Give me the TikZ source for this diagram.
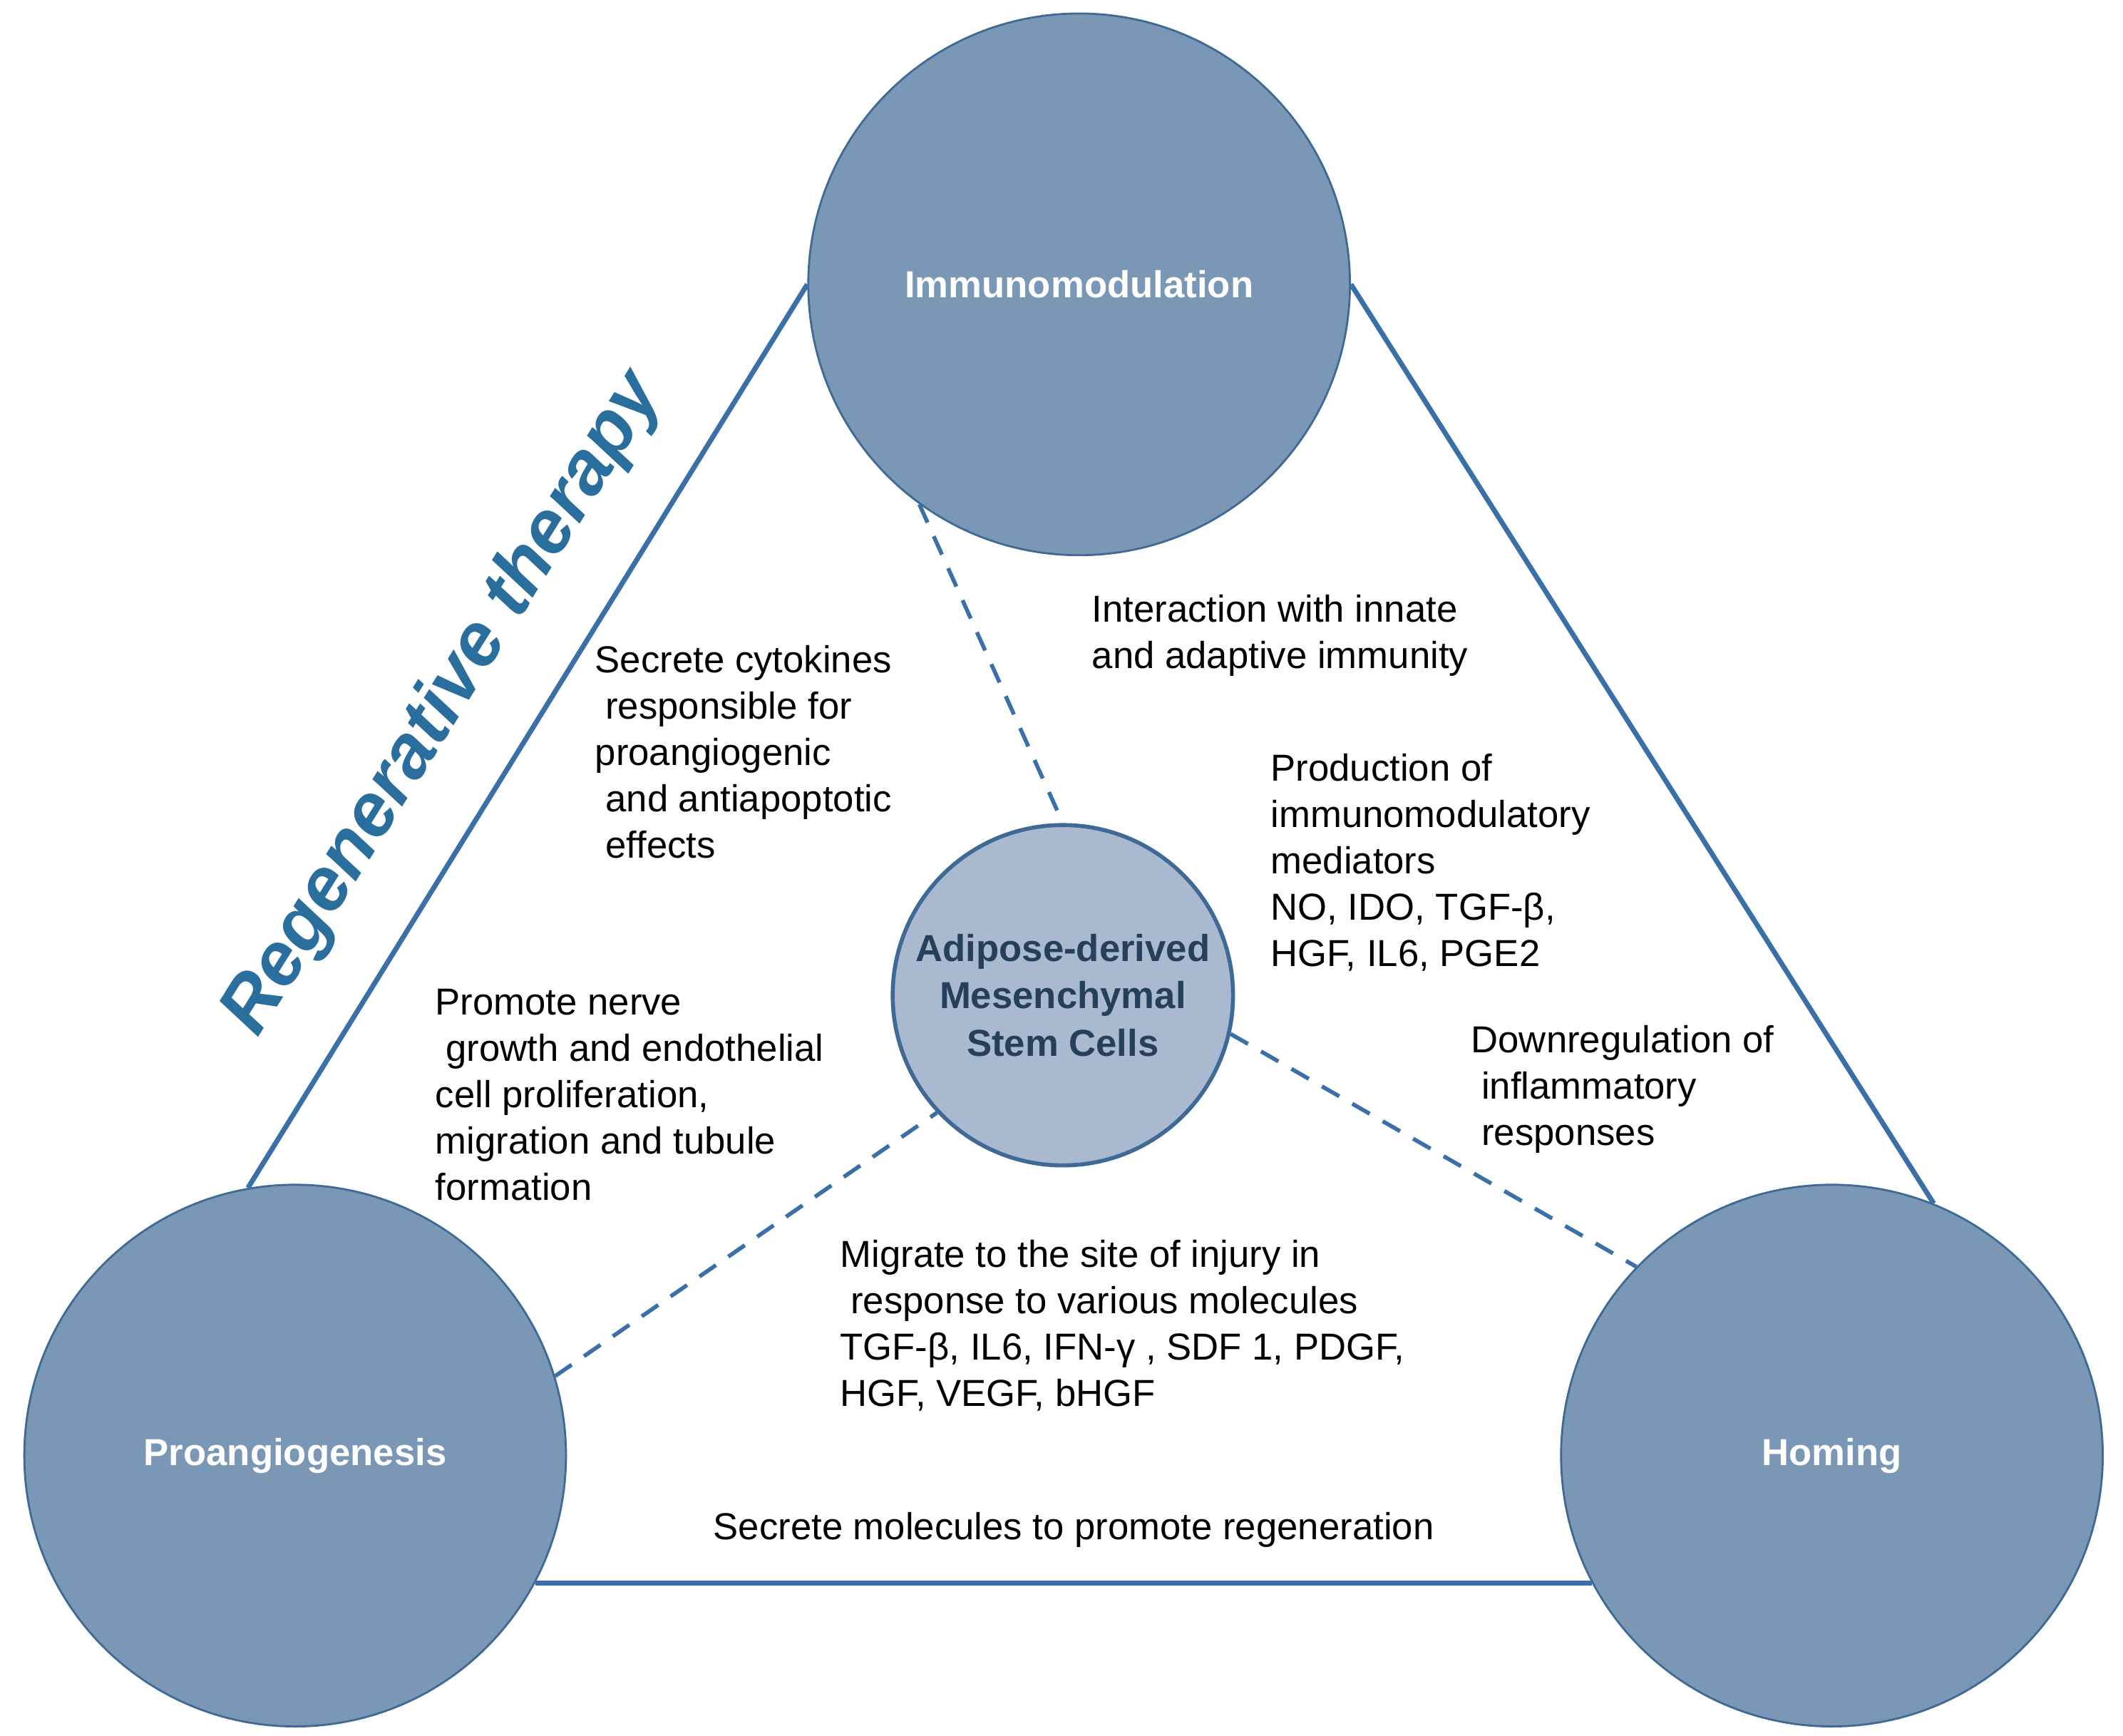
\documentclass[tikz,border=0pt]{standalone}
\usepackage{fontspec}
\setmainfont{Liberation Sans}
\definecolor{disc}{HTML}{7A97B5}
\definecolor{core}{HTML}{A9B9CF}
\definecolor{rim}{HTML}{3F6A96}
\definecolor{link}{HTML}{3A6FA8}
\definecolor{title}{HTML}{2A6E9E}
\tikzset{
  hub/.style={circle,fill=disc,draw=rim,thick,minimum size=7.6cm,text=white,font=\fontsize{15}{18}\selectfont\bfseries},
  note/.style={anchor=north west,align=left,font=\fontsize{15}{18.5}\selectfont},
  side/.style={link,line width=2pt},
  spoke/.style={link,line width=1.6pt,dashed,dash pattern=on 8pt off 6pt}
}
\begin{document}
\begin{tikzpicture}[x=0.019cm,y=-0.019cm]
\useasboundingbox (0,0) rectangle (1568,1282);

\node[hub](v1) at (797,210) {Immunomodulation};
\node[hub](v2) at (218,1075) {Proangiogenesis};
\node[hub](v3) at (1353,1075) {Homing};
\node[circle,fill=core,draw=rim,line width=1.6pt,minimum size=4.5cm,align=center,text=rim!60!black,
  font=\fontsize{15}{19}\selectfont\bfseries](v0) at (785,735) {Adipose-derived\\Mesenchymal\\Stem Cells};

\draw[side] (v1.180) -- (v2.100);
\draw[side] (v1.0) -- (v3.68);
\draw[side] (v2.-28) -- (v3.208);

\draw[spoke] (v1.-126) -- (v0.90);
\draw[spoke] (v2.17) -- (v0.223);
\draw[spoke] (v0.-13) -- (v3.136);

\node[rotate=58,text=title,font=\fontsize{30}{34}\selectfont\bfseries\itshape](t0) at (328,520) {Regenerative therapy};

\node[note](t1) at (433,470) {Secrete cytokines\\ \ responsible for\\ proangiogenic\\ \ and antiapoptotic\\ \ effects};
\node[note](t2) at (800,433) {Interaction with innate\\and adaptive immunity};
\node[note](t3) at (932,550) {Production of\\immunomodulatory\\mediators\\NO, IDO, TGF-β,\\HGF, IL6, PGE2};
\node[note](t4) at (315,724) {Promote nerve\\ \ growth and endothelial\\cell proliferation,\\migration and tubule\\formation};
\node[note](t5) at (1080,751) {Downregulation of\\ \ inflammatory\\ \ responses};
\node[note](t6) at (614,909) {Migrate to the site of injury in\\ \ response to various molecules\\TGF-β, IL6, IFN-γ , SDF 1, PDGF,\\HGF, VEGF, bHGF};
\node[font=\fontsize{15}{18}\selectfont](t7) at (793,1130) {Secrete molecules to promote regeneration};
\end{tikzpicture}
\end{document}
